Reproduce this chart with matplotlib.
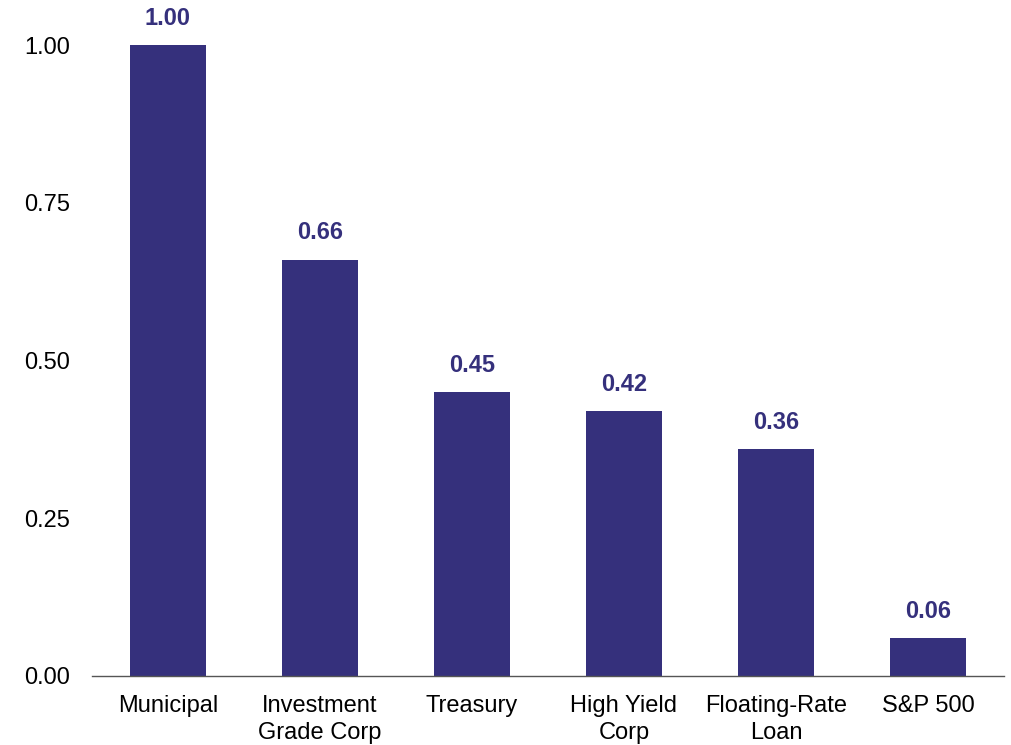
"""Bar chart of relative values by asset class."""

import matplotlib.pyplot as plt
import numpy as np

CATEGORIES = ["Municipal", "Investment\nGrade Corp", "Treasury", "High Yield\nCorp",
              "Floating-Rate\nLoan", "S&P 500"]
VALUES = [1.00, 0.66, 0.45, 0.42, 0.36, 0.06]
Y_TICKS = [0.0, 0.25, 0.50, 0.75, 1.00]

BAR_COLOR = "#35307C"


def main() -> None:
    plt.rcParams["font.family"] = ["Liberation Sans", "DejaVu Sans"]
    fig = plt.figure(figsize=(10.12, 7.45), dpi=100)
    ax = fig.add_axes([92 / 1012, 69 / 745, 912 / 1012, 631 / 745])

    x = np.arange(len(CATEGORIES))
    bars = ax.bar(x, VALUES, width=0.5, color=BAR_COLOR)
    for rect, val in zip(bars, VALUES):
        ax.text(rect.get_x() + rect.get_width() / 2, val + 0.024, f"{val:.2f}",
                ha="center", va="bottom", fontsize=17, fontweight="bold",
                color=BAR_COLOR, clip_on=False)

    ax.set_xlim(-0.5, len(CATEGORIES) - 0.5)
    ax.set_ylim(0, 1.0)
    ax.set_xticks(x, CATEGORIES, fontsize=17, linespacing=1.25)
    ax.set_yticks(Y_TICKS, [f"{t:.2f}" for t in Y_TICKS], fontsize=17)
    ax.tick_params(axis="both", length=0)
    ax.tick_params(axis="y", pad=16)
    ax.tick_params(axis="x", pad=14)
    for side in ["top", "right", "left"]:
        ax.spines[side].set_visible(False)
    ax.spines["bottom"].set_color("#555555")
    ax.spines["bottom"].set_linewidth(1.0)

    fig.savefig("out.png", dpi=100)


if __name__ == "__main__":
    main()
